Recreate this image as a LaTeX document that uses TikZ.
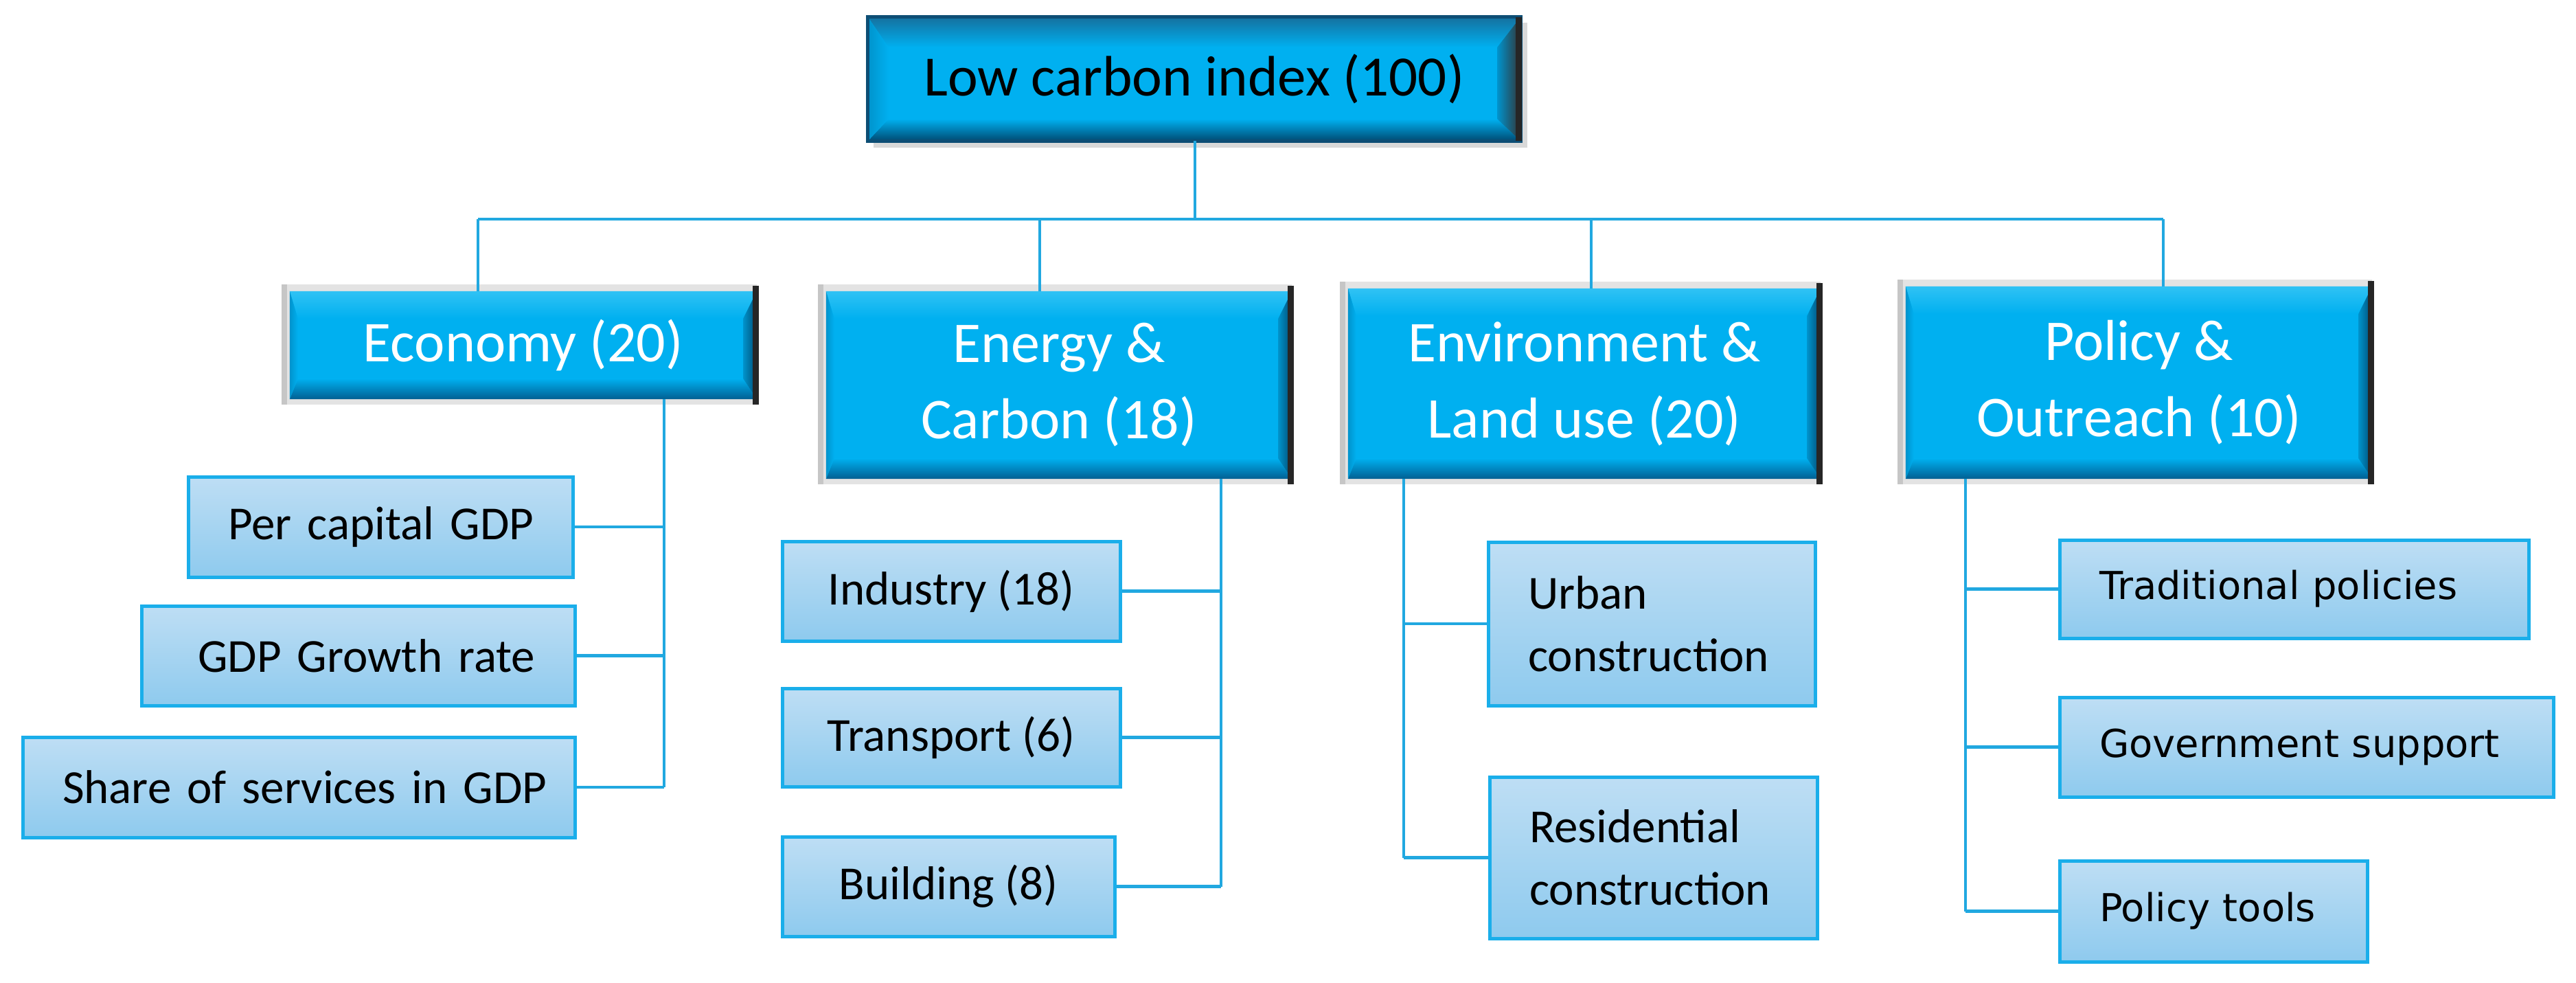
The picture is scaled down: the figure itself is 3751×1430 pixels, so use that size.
\documentclass[tikz,border=0pt]{standalone}
\usepackage{fontspec}
\setmainfont{Carlito}
\newfontfamily\vfont{DejaVu Sans}
\usetikzlibrary{calc}
\pgfdeclarelayer{background}
\pgfsetlayers{background,main}
\definecolor{cline}{HTML}{21A8E0}
\definecolor{leafline}{HTML}{1AAEEA}
\definecolor{leaftop}{HTML}{BEDEF4}
\definecolor{leafbot}{HTML}{8ECAEE}
\definecolor{body}{HTML}{00B0F0}
\definecolor{bevtop}{HTML}{30C2F4}
\definecolor{bevmid}{HTML}{8CE4FF}
\definecolor{bevdark}{HTML}{005F92}
\definecolor{bevside}{HTML}{0093CC}
\definecolor{bevright}{HTML}{004A72}
\definecolor{navy}{HTML}{0D4E75}
\definecolor{topedge}{HTML}{15709E}
\newcommand\catbevel[1]{%
  \fill[gray!22] ([shift={(-12,-10)}]#1.north west) rectangle ([shift={(0,8)}]#1.south east);
  \fill[gray!45] ([shift={(-12,-10)}]#1.north west) rectangle ([shift={(-4,8)}]#1.south west);
  \fill[body] (#1.north west) rectangle (#1.south east);
  \shade[top color=bevtop, middle color=bevmid, bottom color=body]
    (#1.north west) -- (#1.north east) -- ([shift={(-20,40)}]#1.north east) -- ([shift={(12,40)}]#1.north west) -- cycle;
  \shade[top color=body, bottom color=bevdark]
    (#1.south west) -- (#1.south east) -- ([shift={(-20,-30)}]#1.south east) -- ([shift={(12,-30)}]#1.south west) -- cycle;
  \shade[left color=bevside, right color=bevright]
    (#1.north east) -- (#1.south east) -- ([shift={(-20,-30)}]#1.south east) -- ([shift={(-20,40)}]#1.north east) -- cycle;
  \shade[left color=bevside, right color=body]
    (#1.north west) -- (#1.south west) -- ([shift={(12,-30)}]#1.south west) -- ([shift={(12,40)}]#1.north west) -- cycle;
  \fill[black!85] ([shift={(-6,-8)}]#1.north east) rectangle ([shift={(3,8)}]#1.south east);
}
\newcommand\topbevel[1]{%
  \fill[gray!30] ([shift={(8,8)}]#1.north west) rectangle ([shift={(10,10)}]#1.south east);
  \fill[body] (#1.north west) rectangle (#1.south east);
  \shade[top color=topedge, middle color=bevmid, bottom color=body]
    (#1.north west) -- (#1.north east) -- ([shift={(-34,44)}]#1.north east) -- ([shift={(30,44)}]#1.north west) -- cycle;
  \shade[top color=body, bottom color=bevright]
    (#1.south west) -- (#1.south east) -- ([shift={(-34,-32)}]#1.south east) -- ([shift={(30,-32)}]#1.south west) -- cycle;
  \shade[left color=bevside, right color=black!80]
    (#1.north east) -- (#1.south east) -- ([shift={(-34,-32)}]#1.south east) -- ([shift={(-34,44)}]#1.north east) -- cycle;
  \shade[left color=bevside, right color=body]
    (#1.north west) -- (#1.south west) -- ([shift={(30,-32)}]#1.south west) -- ([shift={(30,44)}]#1.north west) -- cycle;
  \draw[navy, line width=5pt] (#1.north west) rectangle (#1.south east);
  \fill[black!85] ([shift={(-7,0)}]#1.north east) rectangle ([shift={(2,0)}]#1.south east);
}
\tikzset{
  conn/.style={draw=cline, line width=4.5pt},
  topbox/.style={inner sep=0pt, font=\fontsize{83}{100}\selectfont, text=black},
  catbox/.style={inner sep=0pt, align=center, text=white, font=\fontsize{84}{111}\selectfont},
  leaf/.style={draw=leafline, line width=5pt, top color=leaftop, bottom color=leafbot,
    inner xsep=58pt, inner ysep=0pt, font=\fontsize{69}{91}\selectfont, text=black},
  vleaf/.style={leaf, align=left, font=\vfont\fontsize{56}{70}\selectfont},
}
\begin{document}
\begin{tikzpicture}[x=1pt, y=-1pt]
\useasboundingbox (0,0) rectangle (3751,1430);

% nodes
\node[topbox, minimum width=950pt, minimum height=180pt] (top) at (1739,115) {Low carbon index (100)};

\node[catbox, minimum width=680pt, minimum height=157pt] (eco) at (762,502.5) {Economy (20)};
\node[catbox, minimum width=678pt, minimum height=273pt] (ene) at (1542,560.5) {Energy \&\\Carbon (18)};
\node[catbox, minimum width=688pt, minimum height=277pt] (env) at (2307,558.5) {Environment \&\\Land use (20)};
\node[catbox, minimum width=679pt, minimum height=280pt] (pol) at (3114.5,557) {Policy \&\\Outreach (10)};

\node[leaf, align=right, text width=444pt, minimum height=146pt] (percap) at (554,767) {\mbox{Per capital GDP}};
\node[leaf, align=right, text width=515pt, minimum height=145pt] (growth) at (521.5,954.5) {\mbox{GDP Growth rate}};
\node[leaf, align=right, text width=688pt, minimum height=146pt] (share) at (435,1146) {\mbox{Share of services in GDP}};

\node[leaf, minimum width=492pt, minimum height=145pt] (ind) at (1385,860.5) {Industry (18)};
\node[leaf, minimum width=492pt, minimum height=143pt] (tra) at (1385,1073.5) {Transport (6)};
\node[leaf, minimum width=484pt, minimum height=145pt] (bui) at (1381,1290.5) {Building (8)};

\node[leaf, align=left, text width=360pt, minimum height=238pt] (urb) at (2405,908) {Urban\\construction};
\node[leaf, align=left, text width=361pt, minimum height=235pt] (res) at (2407.5,1248.5) {Residential\\construction};

\node[vleaf, text width=567pt, minimum height=143pt] (tradp) at (3340.5,857.5) {\mbox{Traditional policies}};
\node[vleaf, text width=603pt, minimum height=145pt] (gov) at (3358.5,1087.5) {\mbox{Government support}};
\node[vleaf, text width=332pt, minimum height=147pt] (tools) at (3223,1326.5) {\mbox{Policy tools}};

\begin{pgfonlayer}{background}
  \topbevel{top}
  \catbevel{eco}
  \catbevel{ene}
  \catbevel{env}
  \catbevel{pol}
\end{pgfonlayer}

% connector junctions
\coordinate (j0) at (1740,319);
\coordinate (d1) at (696,319);
\coordinate (d2) at (1514,319);
\coordinate (d3) at (2317,319);
\coordinate (d4) at (3150,319);
\coordinate (ev) at (967,0);
\coordinate (nv) at (1778,0);
\coordinate (vv) at (2044,0);
\coordinate (pv) at (2862,0);

\draw[conn] (top.south -| j0) -- (j0);
\draw[conn] (d1) -- (d4);
\draw[conn] (d1) -- (eco.north -| d1);
\draw[conn] (d2) -- (ene.north -| d2);
\draw[conn] (d3) -- (env.north -| d3);
\draw[conn] (d4) -- (pol.north -| d4);

\draw[conn] (eco.south -| ev) -- (share.east -| ev);
\draw[conn] (percap.east) -- (percap.east -| ev);
\draw[conn] (growth.east) -- (growth.east -| ev);
\draw[conn] (share.east) -- (share.east -| ev);

\draw[conn] (ene.south -| nv) -- (bui.east -| nv);
\draw[conn] (ind.east) -- (ind.east -| nv);
\draw[conn] (tra.east) -- (tra.east -| nv);
\draw[conn] (bui.east) -- (bui.east -| nv);

\draw[conn] (env.south -| vv) -- (res.west -| vv);
\draw[conn] (urb.west) -- (urb.west -| vv);
\draw[conn] (res.west) -- (res.west -| vv);

\draw[conn] (pol.south -| pv) -- (tools.west -| pv);
\draw[conn] (tradp.west) -- (tradp.west -| pv);
\draw[conn] (gov.west) -- (gov.west -| pv);
\draw[conn] (tools.west) -- (tools.west -| pv);
\end{tikzpicture}
\end{document}
